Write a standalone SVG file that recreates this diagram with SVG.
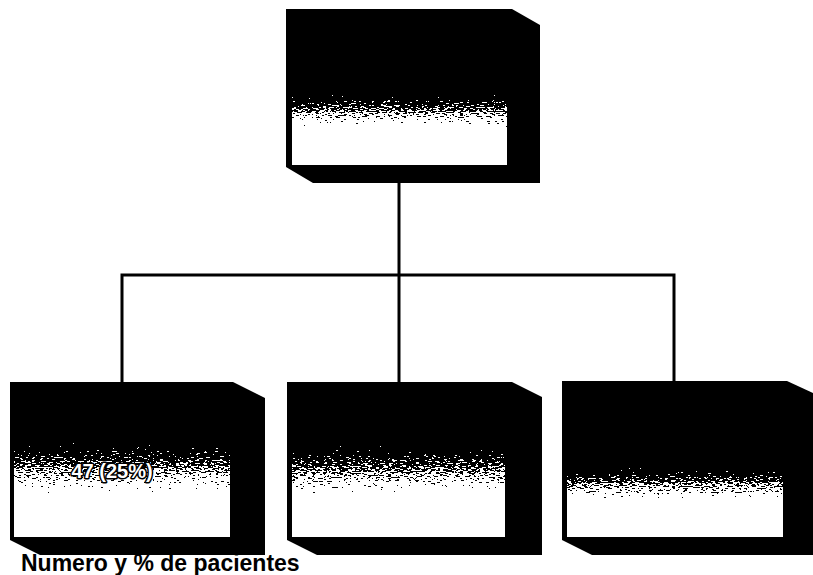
<svg xmlns="http://www.w3.org/2000/svg" width="813" height="575" viewBox="0 0 813 575">
  <style>
    .shell { fill: #000; }
    .band { fill: url(#fade); filter: url(#dither); }
    .lit { fill: #fff; }
    .wire { fill: none; stroke: #000; stroke-width: 3; stroke-linecap: square; }
    .val { font-family: "Liberation Sans", Arial, sans-serif; font-weight: bold; font-size: 20px; fill: #fff; stroke: #000; stroke-width: 3; stroke-linejoin: round; paint-order: stroke; }
    .caption { font-family: "Liberation Sans", Arial, sans-serif; font-weight: bold; font-size: 23px; fill: #000; }
  </style>
  <defs>
    <!-- dark-to-light band at the top of each lit face -->
    <linearGradient id="fade" x1="0" y1="0" x2="0" y2="1">
      <stop offset="0" stop-color="#000"/>
      <stop offset="1" stop-color="#fff"/>
    </linearGradient>
    <!-- threshold the gradient against streaky grey noise for a dithered edge -->
    <filter id="dither" x="0" y="0" width="1" height="1" color-interpolation-filters="sRGB">
      <feTurbulence type="fractalNoise" baseFrequency="0.25 0.8" numOctaves="2" seed="7" result="raw"/>
      <feColorMatrix in="raw" type="matrix" values="1 0 0 0 0  1 0 0 0 0  1 0 0 0 0  0 0 0 0 1" result="n"/>
      <feComposite in="SourceGraphic" in2="n" operator="arithmetic" k1="0" k2="1" k3="1.6" k4="-0.8" result="sum"/>
      <feComponentTransfer in="sum">
        <feFuncR type="discrete" tableValues="0 1"/>
        <feFuncG type="discrete" tableValues="0 1"/>
        <feFuncB type="discrete" tableValues="0 1"/>
        <feFuncA type="linear" slope="0" intercept="1"/>
      </feComponentTransfer>
    </filter>
  </defs>

  <g id="connectors">
    <path class="wire" d="M399,183 V382"/>
    <path class="wire" d="M122,381 V275 H674 V381"/>
  </g>

  <g id="top">
    <polygon class="shell" points="286,9 512,9 540,25 540,183 313,183 286,167"/>
    <rect class="band" x="292" y="95" width="215" height="32"/>
    <rect class="lit" x="292" y="127" width="215" height="38"/>
  </g>

  <g id="left">
    <polygon class="shell" points="10,382 233,382 265,398 265,555 40,555 10,540"/>
    <rect class="band" x="14" y="443" width="216" height="50"/>
    <rect class="lit" x="14" y="493" width="216" height="44"/>
    <text class="val" x="112" y="478" text-anchor="middle">47 (25%)</text>
  </g>

  <g id="middle">
    <polygon class="shell" points="287,382 512,382 542,397 542,555 317,555 287,540"/>
    <rect class="band" x="292" y="446" width="213" height="49"/>
    <rect class="lit" x="292" y="495" width="213" height="42"/>
  </g>

  <g id="right">
    <polygon class="shell" points="562,381 787,381 815,394 815,555 592,555 562,540"/>
    <rect class="band" x="567" y="468" width="216" height="32"/>
    <rect class="lit" x="567" y="500" width="216" height="37"/>
  </g>

  <text class="caption" x="21" y="571">Numero y % de pacientes</text>
</svg>
